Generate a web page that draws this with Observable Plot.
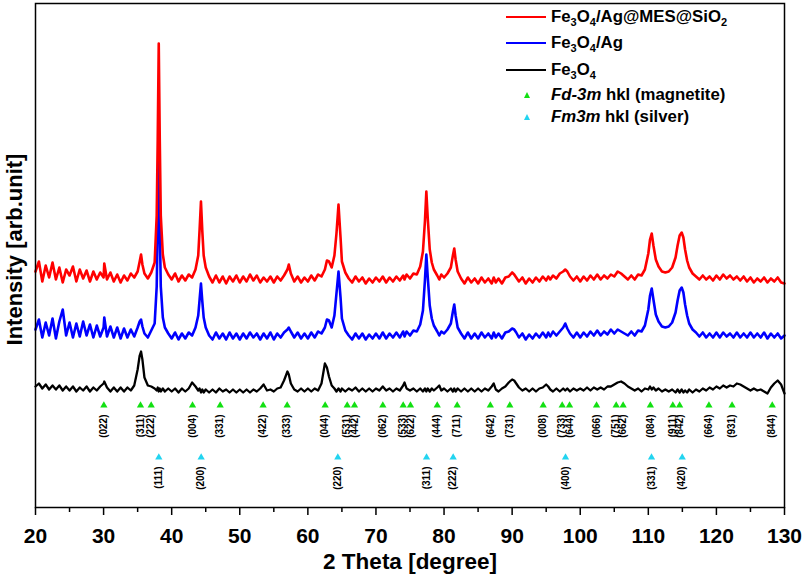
<!DOCTYPE html>
<html><head><meta charset="utf-8">
<script src="https://cdn.jsdelivr.net/npm/d3@7"></script>
<script src="https://cdn.jsdelivr.net/npm/@observablehq/plot@0.6"></script>
<style>
body{margin:0;background:#fff;font-family:"Liberation Sans",Arial,sans-serif;}
#wrap{position:relative;width:803px;height:574px;}
.row{position:absolute;left:506px;height:20px;display:flex;align-items:center;white-space:nowrap;font-weight:bold;font-size:16.8px;color:#000;}
.sw{width:40px;height:0;border-top:2px solid;margin-right:5px}
.tri{width:0;height:0;border-left:3.5px solid transparent;border-right:3.5px solid transparent;border-bottom:6px solid;margin:0 21.5px 0 17.5px}
sub{font-size:11px;vertical-align:-4px;line-height:0}
</style></head>
<body><div id="wrap"></div>
<script>
// 2-theta sampling grid (degrees)
const twoTheta = [
20,20.5,21,21.5,22,22.5,23,23.5,24,24.5,
25,25.5,26,26.5,27,27.5,28,28.5,29,29.5,
30,30.1,30.5,31,31.5,32,32.5,33,33.5,34,34.5,
35,35.3,35.5,35.7,36,36.5,37,37.5,37.8,37.95,38.1,38.25,38.4,38.7,39,39.5,
40,40.5,41,41.5,42,42.5,43,43.5,43.9,44.1,44.3,44.5,44.7,
45,45.5,46,46.5,47,47.5,48,48.5,49,49.5,
50,50.5,51,51.5,52,52.5,53,53.5,54,54.5,
55,55.5,56,56.5,57,57.2,57.5,58,58.5,59,59.5,
60,60.5,61,61.5,62,62.5,62.8,63.1,63.5,63.9,64.2,64.5,64.8,
65,65.5,66,66.5,67,67.5,68,68.5,69,69.5,
70,70.5,71,71.5,72,72.5,73,73.5,74,74.2,74.5,
75,75.5,76,76.5,76.9,77.2,77.4,77.6,77.9,78.2,78.5,79,79.3,79.6,
80,80.5,81,81.3,81.5,81.7,82,82.5,83,83.5,84,84.5,
85,85.5,86,86.5,87,87.3,87.6,88,88.5,89,89.5,
90,90.3,90.6,91,91.5,92,92.5,93,93.5,94,94.5,
95,95.3,95.6,96,96.5,97,97.5,97.8,98.1,98.5,99,99.5,
100,100.5,101,101.5,102,102.5,103,103.5,104,104.5,
105,105.5,106,106.5,107,107.5,108,108.5,109,109.5,
110,110.25,110.5,110.75,111.1,111.5,112,112.5,113,113.5,114,114.3,114.6,114.9,
115.15,115.4,115.7,116,116.5,117,117.5,118,118.5,119,119.5,
120,120.5,121,121.5,122,122.5,123,123.5,124,124.5,
125,125.5,126,126.5,127,127.5,128,128.5,129,129.5,130];

// Fe3O4/Ag@MES@SiO2 (offset, arb. units)
const intensitySiO2 = [
236,246,226,242,230,245,228,240,225,238,
232,241,226,238,229,237,226,236,228,235,
230,244,228,235,226,233,225,232,227,234,230,
236,246,253,243,234,229,235,245,292,368,464,368,292,253,240,233,
228,234,226,232,227,233,230,238,252,278,306,276,252,
240,231,225,232,225,231,224,231,226,232,
225,231,226,233,227,232,225,230,226,231,
225,231,227,232,238,243,234,226,231,225,230,
226,232,227,233,231,238,247,246,240,252,274,303,270,
246,235,229,225,231,226,230,224,229,225,
230,226,231,225,230,226,231,227,232,228,233,
229,234,233,241,256,287,316,290,258,245,238,232,228,233,
230,234,240,252,259,248,236,229,224,230,225,229,
224,230,225,229,224,230,225,229,224,230,231,
235,233,230,226,230,224,229,225,230,226,231,
227,231,228,232,229,234,236,238,236,231,227,231,
226,231,227,232,228,233,228,232,229,233,
231,236,234,231,228,232,228,233,232,238,
254,268,274,262,248,241,236,235,236,240,250,262,272,275,
270,258,247,240,234,231,228,232,228,231,227,
232,228,233,229,232,228,231,227,231,226,
230,225,229,226,230,225,229,226,230,225,224];

// Fe3O4/Ag
const intensityAg = [
178,188,170,185,172,189,169,186,198,172,
185,170,184,171,186,172,183,170,182,171,
180,190,171,181,170,180,169,179,170,178,171,
180,186,188,181,174,170,177,184,221,281,358,281,221,190,180,174,
169,175,168,174,169,175,172,180,192,208,224,206,190,
180,172,168,175,169,174,168,175,169,174,
168,174,169,175,170,174,168,174,169,175,
168,174,170,175,178,180,176,170,175,169,174,
169,175,170,176,174,180,188,187,180,192,214,236,210,
189,177,172,168,174,169,174,168,173,169,
174,169,175,169,174,170,175,170,176,171,176,
172,177,176,183,197,228,253,231,202,189,182,176,172,176,
174,178,184,196,203,192,180,174,169,175,169,174,
169,175,170,174,169,175,170,174,169,175,176,
179,178,175,170,174,168,173,169,174,170,175,
170,175,171,176,172,176,180,184,179,174,170,175,
170,175,171,176,172,177,172,176,173,178,
174,178,176,174,172,176,172,177,176,182,
198,212,219,208,193,186,181,180,181,185,195,207,217,220,
215,203,192,184,178,175,171,175,170,174,170,
175,170,175,171,174,170,175,170,174,170,
175,170,174,170,175,169,174,170,174,169,172];

// Fe3O4
const intensityFe3O4 = [
121,124,119,123,118,122,118,122,117,121,
117,121,116,120,117,121,116,120,117,121,
124,126,120,116,120,116,120,116,120,117,122,
138,152,156,148,130,122,121,119,117,120,116,119,116,119,116,119,
116,119,115,119,116,119,125,121,117,119,115,118,115,
118,115,118,115,119,116,118,115,118,115,
118,115,118,115,118,116,119,123,117,118,
116,119,120,127,136,133,124,118,116,119,116,
119,116,119,117,124,144,140,131,122,119,116,119,116,
119,116,119,117,120,116,119,116,119,116,
119,117,121,117,119,116,119,117,122,125,119,
117,119,116,119,116,119,116,119,116,119,117,120,122,117,
119,116,119,116,119,116,119,116,119,116,119,116,
119,116,119,117,121,124,118,116,119,121,125,
128,127,124,120,117,119,116,119,116,119,120,
123,121,118,116,119,116,119,117,119,116,119,117,
119,117,120,117,120,118,120,118,121,121,
123,125,126,124,121,119,117,119,116,119,
118,121,118,120,117,119,116,118,116,118,115,118,115,118,
115,117,115,118,115,118,116,119,117,120,118,
121,119,122,120,122,121,124,123,121,119,
117,119,117,118,116,114,120,124,127,123,114];

const seriesNames = ["Fe3O4/Ag@MES@SiO2", "Fe3O4/Ag", "Fe3O4"];
const seriesColors = ["#ff0000", "#0000ff", "#000000"];

// Fd-3m (magnetite) reflections
const magnetiteHkl = ["(022)","(311)","(222)","(004)","(331)","(422)","(333)","(044)","(531)","(442)","(062)","(533)","(622)","(444)","(711)","(642)","(731)","(008)","(733)","(644)","(066)","(751)","(662)","(084)","(911)","(842)","(664)","(931)","(844)"];
const magnetitePos = [30.04,35.42,36.99,43.06,47.12,53.43,56.96,62.54,65.78,66.85,71.01,74.0,75.07,79.0,81.93,86.8,89.66,94.56,97.35,98.43,102.4,105.28,106.3,110.3,113.6,114.6,118.9,122.3,128.2];

// Fm3m (silver) reflections
const silverHkl = ["(111)","(200)","(220)","(311)","(222)","(400)","(331)","(420)"];
const silverPos = [38.11,44.33,64.4,77.43,81.34,97.84,110.47,114.98];

const xTicks = [20,30,40,50,60,70,80,90,100,110,120,130];
const xMinorTicks = [25,35,45,55,65,75,85,95,105,115,125];

function rowsFor(values) {
  const n = Math.min(values.length, twoTheta.length);
  if (values.length !== twoTheta.length) console.error("length mismatch", values.length, twoTheta.length);
  return d3.range(n).map(i => ({t: twoTheta[i], v: values[i]}));
}

const FONT = "'Liberation Sans', Arial, Helvetica, sans-serif";
const magLevel = 102, magLabelTop = 93, agLevel = 50, agLabelTop = 41;

const chart = Plot.plot({
  width: 803, height: 574,
  marginLeft: 35, marginRight: 19, marginTop: 3, marginBottom: 67,
  style: {fontFamily: FONT, background: "white", color: "black"},
  x: {domain: [20, 130]},
  y: {domain: [0, 504], axis: null},
  marks: [
    Plot.line(rowsFor(intensityFe3O4), {x: "t", y: "v", stroke: seriesColors[2], strokeWidth: 2.3, strokeLinejoin: "round"}),
    Plot.line(rowsFor(intensityAg), {x: "t", y: "v", stroke: seriesColors[1], strokeWidth: 2.6, strokeLinejoin: "round"}),
    Plot.line(rowsFor(intensitySiO2), {x: "t", y: "v", stroke: seriesColors[0], strokeWidth: 2.6, strokeLinejoin: "round"}),
    Plot.dot(magnetitePos, {x: d => d, y: () => magLevel, symbol: "triangle", fill: "#12e012", stroke: "none", r: 2.7}),
    Plot.text(magnetitePos, {x: d => d, y: () => magLabelTop, text: (d, i) => magnetiteHkl[i], rotate: -90, textAnchor: "end", fontSize: 10, fontWeight: "bold", fill: "black"}),
    Plot.dot(silverPos, {x: d => d, y: () => agLevel, symbol: "triangle", fill: "#22d4f0", stroke: "none", r: 2.7}),
    Plot.text(silverPos, {x: d => d, y: () => agLabelTop, text: (d, i) => silverHkl[i], rotate: -90, textAnchor: "end", fontSize: 10, fontWeight: "bold", fill: "black"}),
    Plot.frame({stroke: "black", strokeWidth: 1.5}),
    Plot.axisX(xTicks, {tickSize: 8, tickPadding: 13, fontSize: 21, fontWeight: "bold", label: null, strokeWidth: 1.5}),
    Plot.axisX(xMinorTicks, {tickSize: 5, tickFormat: () => "", label: null, strokeWidth: 1.5}),
    Plot.text(["2 Theta [degree]"], {frameAnchor: "bottom", lineAnchor: "bottom", dy: 61, text: d => d, fontSize: 22.5, fontWeight: "bold", fill: "black"}),
    Plot.text(["Intensity [arb.unit]"], {frameAnchor: "left", textAnchor: "middle", lineAnchor: "middle", dx: -21, dy: -6, rotate: -90, text: d => d, fontSize: 22, fontWeight: "bold", fill: "black"})
  ]
});
const wrap = document.getElementById("wrap");
wrap.appendChild(chart);

// legend
const legendRows = [
  {html: "Fe<sub>3</sub>O<sub>4</sub>/Ag@MES@SiO<sub>2</sub>", color: seriesColors[0], kind: "line", cy: 17},
  {html: "Fe<sub>3</sub>O<sub>4</sub>/Ag", color: seriesColors[1], kind: "line", cy: 43},
  {html: "Fe<sub>3</sub>O<sub>4</sub>", color: seriesColors[2], kind: "line", cy: 70},
  {html: "<i>Fd-3m</i>&nbsp;hkl (magnetite)", color: "#12e012", kind: "tri", cy: 95},
  {html: "<i>Fm3m</i>&nbsp;hkl (silver)", color: "#22d4f0", kind: "tri", cy: 117}
];
for (const r of legendRows) {
  const div = document.createElement("div");
  div.className = "row";
  div.style.top = (r.cy - 10) + "px";
  const mk = document.createElement("span");
  mk.className = r.kind === "line" ? "sw" : "tri";
  if (r.kind === "line") mk.style.borderTopColor = r.color; else mk.style.borderBottomColor = r.color;
  div.appendChild(mk);
  const t = document.createElement("span");
  t.innerHTML = r.html;
  div.appendChild(t);
  wrap.appendChild(div);
}
</script>
</body></html>
